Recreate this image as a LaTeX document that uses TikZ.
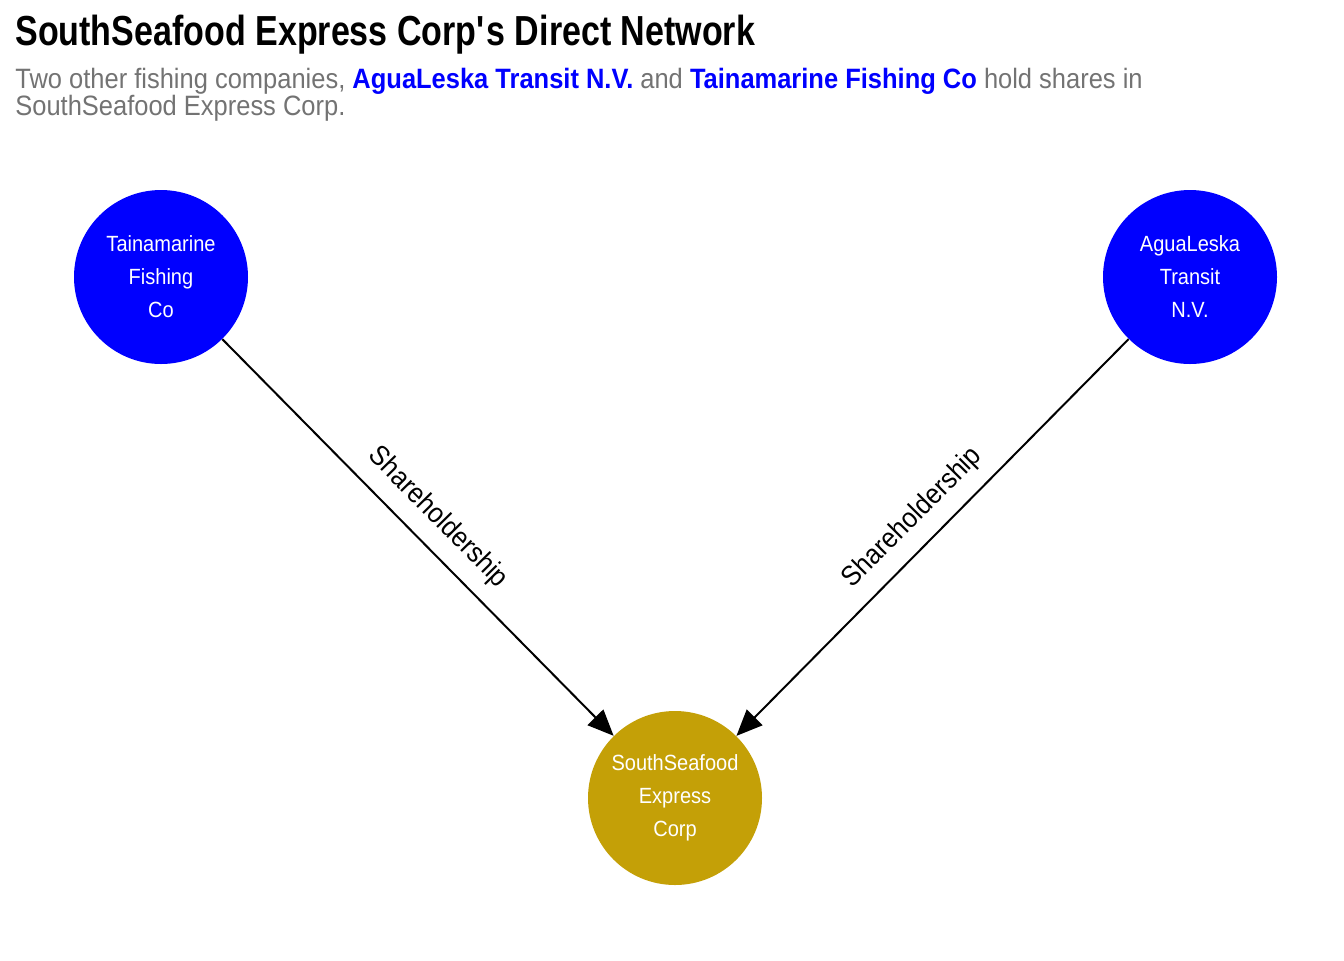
\documentclass[tikz,border=0pt]{standalone}
\usepackage{fontspec}
\setmainfont{Liberation Sans}[FakeStretch=0.91]
\newfontfamily\titlefont{Liberation Sans}[FakeStretch=0.81]
\usetikzlibrary{arrows.meta}
\definecolor{subgray}{RGB}{115,115,115}
\definecolor{gold}{RGB}{196,160,7}
\definecolor{pureblue}{RGB}{0,0,255}
\tikzset{
  company/.style={circle, minimum size=87pt, inner sep=0pt, text=white, align=center,
    font=\fontsize{11}{16.5}\selectfont},
  owner/.style={company, fill=pureblue},
  target/.style={company, fill=gold},
  link/.style={draw=black, line width=1pt, -{Triangle[length=13pt,width=11pt]}},
  elabel/.style={midway, sloped, above, inner sep=7pt, font=\fontsize{14}{16}\selectfont, text=black},
}
\begin{document}
\begin{tikzpicture}[x=0.5pt,y=-0.5pt]
\useasboundingbox (0,0) rectangle (1344,960);
\node[anchor=base west, inner sep=0pt, font=\titlefont\fontsize{21}{24}\selectfont\bfseries] (title) at (15,45) {SouthSeafood Express Corp\textquotesingle s Direct Network};
\node[anchor=base west, inner sep=0pt, text=subgray, font=\fontsize{14}{16}\selectfont] (sub1) at (15,88) {Two other fishing companies, \textcolor{pureblue}{\bfseries AguaLeska Transit N.V.} and \textcolor{pureblue}{\bfseries Tainamarine Fishing Co} hold shares in};
\node[anchor=base west, inner sep=0pt, text=subgray, font=\fontsize{14}{16}\selectfont] (sub2) at (15,115) {SouthSeafood Express Corp.};
\node[owner] (tain) at (161,277) {Tainamarine\\Fishing\\Co};
\node[owner] (agua) at (1190,277) {AguaLeska\\Transit\\N.V.};
\node[target] (south) at (675,798) {SouthSeafood\\Express\\Corp};
\draw[link] (tain) -- node[elabel] (l1) {Shareholdership} (south);
\draw[link] (agua) -- node[elabel] (l2) {Shareholdership} (south);
\end{tikzpicture}
\end{document}
